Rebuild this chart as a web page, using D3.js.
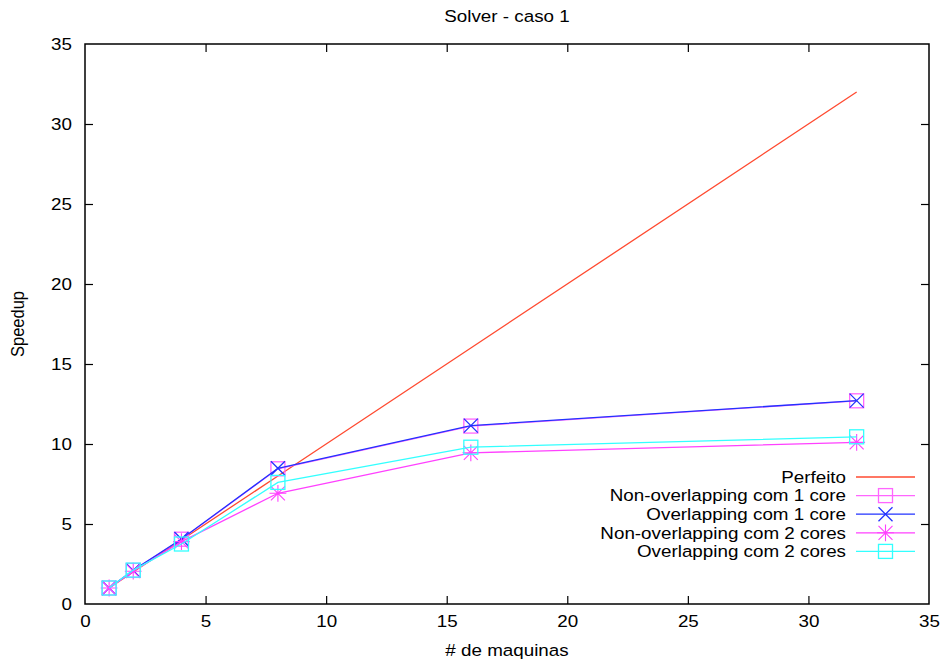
<!DOCTYPE html>
<html>
<head>
<meta charset="utf-8">
<script src="https://cdn.jsdelivr.net/npm/d3@7/dist/d3.min.js"></script>
<style>
  html, body { margin: 0; padding: 0; background: #fff; }
  svg { display: block; font-family: "Liberation Sans", Helvetica, Arial, sans-serif; }
</style>
</head>
<body>
<svg id="chart" width="944" height="666"></svg>
<script>
// Number of machines and measured speedups
const machines = [1, 2, 4, 8, 16, 32];
const perfeito = [1, 2, 4, 8, 16, 32];
const nonOverlap1 = [1.0, 2.1, 4.05, 8.45, 11.12, 12.7];
const overlap1 = [1.0, 2.1, 4.06, 8.48, 11.15, 12.71];
const nonOverlap2 = [1.0, 2.05, 3.9, 6.92, 9.45, 10.1];
const overlap2 = [1.0, 2.12, 3.75, 7.6, 9.8, 10.45];

const xTicks = [0, 5, 10, 15, 20, 25, 30, 35];
const yTicks = [0, 5, 10, 15, 20, 25, 30, 35];

const series = [
  { name: "Perfeito", values: perfeito, color: "#ff4a30", marker: null },
  { name: "Non-overlapping com 1 core", values: nonOverlap1, color: "#ff66ff", marker: "square" },
  { name: "Overlapping com 1 core", values: overlap1, color: "#2233ff", marker: "x" },
  { name: "Non-overlapping com 2 cores", values: nonOverlap2, color: "#ff40ff", marker: "star" },
  { name: "Overlapping com 2 cores", values: overlap2, color: "#33ffff", marker: "square" }
];

const svg = d3.select("#chart");
const margin = { left: 85, right: 15, top: 44, bottom: 62 };
const W = 944, H = 666;
const FS = 16.5;   // font size
const SX = 1.14;   // horizontal widening of glyphs

const x = d3.scaleLinear().domain([0, 35]).range([margin.left, W - margin.right]);
const y = d3.scaleLinear().domain([0, 35]).range([H - margin.bottom, margin.top]);

// Horizontal text with widened glyphs
function label(px, py, str, anchor) {
  return svg.append("text")
    .attr("transform", `translate(${px},${py}) scale(${SX},1)`)
    .attr("text-anchor", anchor || "middle")
    .attr("font-size", FS)
    .text(str);
}

// Title
label((x(0) + x(35)) / 2, 22, "Solver - caso 1");

// Axes with inward ticks, mirrored on all sides
const tickLen = 8;
const axisG = svg.append("g");
const axBottom = axisG.append("g").attr("transform", `translate(0,${y(0)})`)
  .call(d3.axisBottom(x).tickValues(xTicks).tickSizeInner(-tickLen).tickSizeOuter(0).tickPadding(14));
const axTop = axisG.append("g").attr("transform", `translate(0,${y(35)})`)
  .call(d3.axisTop(x).tickValues(xTicks).tickSizeInner(-tickLen).tickSizeOuter(0).tickFormat(""));
const axLeft = axisG.append("g").attr("transform", `translate(${x(0)},0)`)
  .call(d3.axisLeft(y).tickValues(yTicks).tickSizeInner(-tickLen).tickSizeOuter(0).tickPadding(13));
const axRight = axisG.append("g").attr("transform", `translate(${x(35)},0)`)
  .call(d3.axisRight(y).tickValues(yTicks).tickSizeInner(-tickLen).tickSizeOuter(0).tickFormat(""));

[axBottom, axTop, axLeft, axRight].forEach(g => {
  g.select(".domain").remove();
  g.selectAll(".tick line").attr("stroke", "#000").attr("stroke-width", 1.2);
  g.selectAll(".tick text").attr("font-size", FS).attr("fill", "#000")
    .attr("font-family", "Liberation Sans, Helvetica, Arial, sans-serif");
  // no tick marks on the frame corners
  g.selectAll(".tick").filter(d => d === 0 || d === 35).select("line").remove();
});
axBottom.selectAll(".tick text").attr("dy", "0.55em")
  .attr("transform", `scale(${SX},1)`);
axLeft.selectAll(".tick text")
  .attr("x", -13 / SX)
  .attr("transform", `scale(${SX},1)`);

// Frame
svg.append("rect")
  .attr("x", x(0)).attr("y", y(35))
  .attr("width", x(35) - x(0)).attr("height", y(0) - y(35))
  .attr("fill", "none").attr("stroke", "#000").attr("stroke-width", 1.5);

// Axis titles
label((x(0) + x(35)) / 2, 656, "# de maquinas");
svg.append("text")
  .attr("transform", `translate(24,${(y(0) + y(35)) / 2}) rotate(-90) scale(1,${SX})`)
  .attr("text-anchor", "middle").attr("font-size", FS)
  .text("Speedup");

// Marker drawing
function drawMarker(g, type, cx, cy, color) {
  const s = 7;
  if (type === "square") {
    g.append("rect").attr("x", cx - s).attr("y", cy - s)
      .attr("width", 2 * s).attr("height", 2 * s)
      .attr("fill", "none").attr("stroke", color).attr("stroke-width", 1.3);
  } else if (type === "x") {
    g.append("path")
      .attr("d", `M${cx - s},${cy - s}L${cx + s},${cy + s}M${cx - s},${cy + s}L${cx + s},${cy - s}`)
      .attr("stroke", color).attr("stroke-width", 1.3).attr("fill", "none");
  } else if (type === "star") {
    g.append("path")
      .attr("d", `M${cx - s},${cy - s}L${cx + s},${cy + s}M${cx - s},${cy + s}L${cx + s},${cy - s}` +
        `M${cx},${cy - s * 1.2}L${cx},${cy + s * 1.2}M${cx - s * 1.2},${cy}L${cx + s * 1.2},${cy}`)
      .attr("stroke", color).attr("stroke-width", 1.1).attr("fill", "none");
  }
}

// Plot clipped to the frame
svg.append("clipPath").attr("id", "plotclip").append("rect")
  .attr("x", x(0)).attr("y", y(35)).attr("width", x(35) - x(0)).attr("height", y(0) - y(35));
const plot = svg.append("g").attr("clip-path", "url(#plotclip)");

const line = d3.line().x(d => x(d[0])).y(d => y(d[1]));
series.forEach(s => {
  const pts = machines.map((mm, i) => [mm, s.values[i]]);
  const g = plot.append("g");
  g.append("path").datum(pts).attr("d", line)
    .attr("fill", "none").attr("stroke", s.color).attr("stroke-width", 1.3);
  if (s.marker) pts.forEach(p => drawMarker(g, s.marker, x(p[0]), y(p[1]), s.color));
});

// Legend
const legend = svg.append("g");
const lx0 = 856, lx1 = 915, textX = 846, ly0 = 477, ldy = 18.6;
series.forEach((s, i) => {
  const yy = ly0 + i * ldy;
  legend.append("text")
    .attr("transform", `translate(${textX},${yy}) scale(${SX},1)`)
    .attr("dy", "0.35em")
    .attr("text-anchor", "end").attr("font-size", FS).text(s.name);
  legend.append("line").attr("x1", lx0).attr("x2", lx1).attr("y1", yy).attr("y2", yy)
    .attr("stroke", s.color).attr("stroke-width", 1.3);
  if (s.marker) drawMarker(legend, s.marker, (lx0 + lx1) / 2, yy, s.color);
});
</script>
</body>
</html>
